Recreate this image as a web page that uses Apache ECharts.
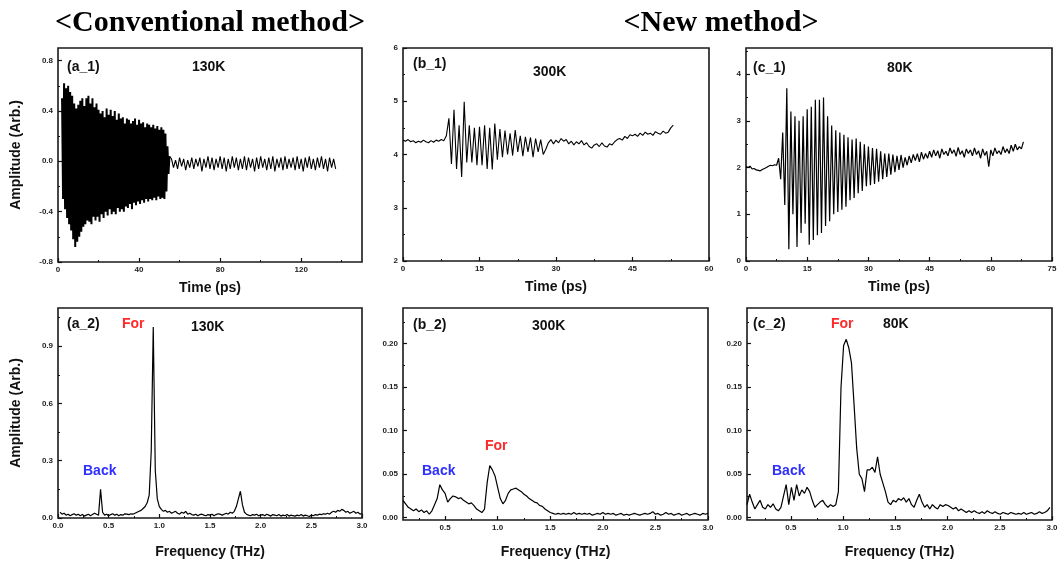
<!DOCTYPE html>
<html><head><meta charset="utf-8">
<script src="https://cdn.jsdelivr.net/npm/echarts@6/dist/echarts.min.js"></script>
<style>html,body{margin:0;padding:0;background:#fff}#c{width:1061px;height:562px}</style>
</head><body><div id="c"></div>
<script>
// ---------- (a_1) 130K time trace: burst sampled every 0.5 ps from 2 ps, tail every 1 ps from 55 ps
const a1BurstStart = 2, a1BurstStep = 0.5;
const a1Burst = [
 0.50,-0.30,0.62,-0.38,0.58,-0.45,0.60,-0.50,0.55,-0.55,
 0.52,-0.62,0.46,-0.68,0.42,-0.64,0.45,-0.60,0.48,-0.56,
 0.50,-0.52,0.44,-0.50,0.50,-0.47,0.52,-0.48,0.46,-0.50,
 0.50,-0.44,0.43,-0.47,0.46,-0.44,0.41,-0.48,0.38,-0.42,
 0.40,-0.45,0.35,-0.40,0.42,-0.43,0.37,-0.38,0.41,-0.42,
 0.36,-0.40,0.40,-0.42,0.33,-0.37,0.38,-0.40,0.34,-0.38,
 0.35,-0.40,0.30,-0.36,0.34,-0.37,0.33,-0.34,0.30,-0.38,
 0.32,-0.33,0.34,-0.35,0.29,-0.32,0.33,-0.34,0.30,-0.31,
 0.31,-0.33,0.27,-0.30,0.30,-0.32,0.29,-0.30,0.27,-0.31,
 0.29,-0.29,0.26,-0.31,0.28,-0.28,0.25,-0.30,0.27,-0.29,
 0.25,-0.30,0.22,-0.24,0.12,-0.10,0.04];
const a1TailStart = 55, a1TailStep = 1;
const a1Tail = [
 0.04,
 0.02,-0.05,0.01,-0.06,0.03,-0.04,0.02,-0.07,0.01,-0.05,
 0.03,-0.06,0.02,-0.04,0.03,-0.08,0.02,-0.05,0.04,-0.06,
 0.03,-0.07,0.02,-0.05,0.04,-0.06,0.03,-0.08,0.02,-0.06,
 0.04,-0.05,0.03,-0.07,0.02,-0.06,0.04,-0.07,0.03,-0.05,
 0.02,-0.08,0.03,-0.06,0.04,-0.05,0.02,-0.07,0.03,-0.06,
 0.04,-0.08,0.02,-0.05,0.03,-0.07,0.04,-0.06,0.02,-0.05,
 0.03,-0.07,0.04,-0.06,0.02,-0.08,0.03,-0.05,0.04,-0.06,
 0.02,-0.07,0.03,-0.05,0.04,-0.06,0.02,-0.08,0.03,-0.05,
 0.02,-0.06];

// ---------- (b_1) 300K time trace, every 0.5 ps from 0 ps
const b1Start = 0, b1Step = 0.5;
const b1 = [
 4.27,4.25,4.28,4.24,4.26,4.22,4.25,4.23,4.27,4.24,
 4.22,4.26,4.23,4.27,4.25,4.28,4.26,4.35,4.68,3.82,
 4.84,3.73,4.55,3.58,4.99,3.85,4.55,3.85,4.50,3.80,
 4.52,3.80,4.55,3.73,4.50,3.72,4.58,3.90,4.48,3.95,
 4.45,4.00,4.40,3.98,4.46,4.05,4.35,3.97,4.33,4.05,
 4.32,3.95,4.30,4.05,4.28,4.00,4.10,4.22,4.28,4.20,
 4.27,4.22,4.30,4.25,4.28,4.20,4.25,4.18,4.24,4.20,
 4.26,4.18,4.22,4.15,4.12,4.18,4.20,4.15,4.22,4.16,
 4.14,4.20,4.18,4.24,4.28,4.30,4.27,4.34,4.30,4.37,
 4.35,4.38,4.34,4.40,4.36,4.42,4.38,4.40,4.36,4.43,
 4.40,4.38,4.44,4.40,4.42,4.50,4.55];

// ---------- (c_1) 80K time trace, every 0.5 ps from 0 ps
const c1Start = 0, c1Step = 0.5;
const c1 = [
 2.02,2.00,2.03,1.97,1.98,1.95,1.94,1.93,1.96,1.98,
 2.00,2.03,2.05,2.04,2.06,2.05,2.20,1.75,2.75,1.20,
 3.70,0.25,3.20,1.00,3.10,0.30,3.00,0.60,3.10,0.80,
 3.25,0.35,3.30,0.45,3.45,0.55,3.45,0.60,3.50,0.75,
 3.10,0.85,2.90,1.00,2.80,1.05,2.75,1.10,2.70,1.16,
 2.65,1.30,2.60,1.35,2.62,1.45,2.55,1.50,2.50,1.60,
 2.45,1.62,2.42,1.65,2.40,1.70,2.35,1.75,2.30,1.80,
 2.30,1.85,2.28,1.90,2.25,1.95,2.27,2.00,2.22,2.05,
 2.25,2.10,2.28,2.15,2.30,2.12,2.33,2.18,2.30,2.20,
 2.35,2.22,2.38,2.25,2.36,2.20,2.40,2.28,2.35,2.25,
 2.42,2.30,2.38,2.24,2.43,2.28,2.36,2.22,2.40,2.30,
 2.38,2.25,2.42,2.28,2.36,2.20,2.40,2.26,2.35,2.02,
 2.38,2.25,2.42,2.30,2.36,2.28,2.45,2.32,2.40,2.30,
 2.48,2.35,2.50,2.38,2.45,2.40,2.55];

// ---------- (a_2) 130K spectrum, every 0.02 THz from 0.02 THz
const a2Start = 0.02, a2Step = 0.02;
const a2 = [
 0.030,0.020,0.025,0.015,0.020,0.012,0.018,0.022,0.015,0.020,
 0.012,0.018,0.010,0.015,0.020,0.012,0.018,0.025,0.020,0.015,
 0.150,0.030,0.015,0.020,0.012,0.018,0.022,0.015,0.020,0.012,
 0.018,0.015,0.022,0.020,0.018,0.022,0.020,0.025,0.030,0.035,
 0.040,0.050,0.060,0.080,0.120,0.350,1.000,0.250,0.100,0.060,
 0.045,0.035,0.040,0.030,0.035,0.025,0.030,0.035,0.025,0.020,
 0.030,0.025,0.035,0.020,0.025,0.018,0.015,0.020,0.012,0.018,
 0.020,0.015,0.012,0.018,0.015,0.020,0.012,0.018,0.022,0.020,
 0.015,0.020,0.025,0.020,0.030,0.025,0.035,0.060,0.100,0.140,
 0.070,0.030,0.020,0.015,0.012,0.018,0.015,0.020,0.012,0.015,
 0.018,0.012,0.020,0.015,0.010,0.018,0.015,0.012,0.018,0.010,
 0.015,0.012,0.018,0.010,0.015,0.012,0.010,0.015,0.012,0.018,
 0.010,0.015,0.012,0.008,0.015,0.012,0.018,0.015,0.020,0.018,
 0.022,0.020,0.025,0.020,0.030,0.035,0.030,0.040,0.035,0.045,
 0.040,0.030,0.035,0.025,0.030,0.035,0.025,0.030,0.020,0.025];

// ---------- (b_2) 300K spectrum, every 0.025 THz from 0.1 THz
const b2Start = 0.1, b2Step = 0.025;
const b2 = [
 0.020,0.016,0.012,0.010,0.008,0.010,0.007,0.009,0.006,0.008,
 0.004,0.008,0.015,0.022,0.038,0.032,0.028,0.018,0.022,0.025,
 0.024,0.022,0.023,0.020,0.018,0.016,0.017,0.014,0.010,0.008,
 0.006,0.010,0.040,0.060,0.055,0.048,0.035,0.022,0.016,0.020,
 0.028,0.032,0.033,0.034,0.032,0.030,0.027,0.025,0.022,0.020,
 0.018,0.017,0.014,0.013,0.010,0.008,0.006,0.005,0.004,0.005,
 0.004,0.005,0.004,0.005,0.004,0.006,0.004,0.005,0.004,0.005,
 0.004,0.005,0.003,0.004,0.005,0.004,0.006,0.004,0.005,0.004,
 0.005,0.003,0.004,0.005,0.003,0.004,0.003,0.004,0.005,0.004,
 0.003,0.004,0.005,0.004,0.005,0.007,0.004,0.005,0.003,0.004,
 0.006,0.004,0.005,0.003,0.004,0.005,0.003,0.004,0.005,0.003,
 0.004,0.005,0.004,0.003,0.005,0.004,0.005];

// ---------- (c_2) 80K spectrum, every 0.025 THz from 0.08 THz
const c2Start = 0.08, c2Step = 0.025;
const c2 = [
 0.015,0.027,0.018,0.010,0.015,0.020,0.012,0.010,0.015,0.012,
 0.016,0.010,0.008,0.012,0.025,0.038,0.015,0.035,0.020,0.038,
 0.025,0.032,0.028,0.035,0.030,0.020,0.012,0.015,0.018,0.020,
 0.015,0.012,0.015,0.013,0.015,0.030,0.150,0.198,0.205,0.195,
 0.178,0.130,0.080,0.050,0.045,0.030,0.055,0.055,0.058,0.052,
 0.070,0.050,0.040,0.030,0.018,0.015,0.020,0.018,0.022,0.020,
 0.023,0.018,0.022,0.015,0.012,0.020,0.027,0.018,0.012,0.015,
 0.010,0.015,0.012,0.010,0.015,0.013,0.015,0.014,0.012,0.010,
 0.012,0.008,0.010,0.008,0.006,0.008,0.006,0.008,0.006,0.005,
 0.007,0.005,0.008,0.006,0.005,0.007,0.005,0.004,0.006,0.005,
 0.004,0.006,0.005,0.004,0.005,0.004,0.006,0.004,0.005,0.006,
 0.004,0.005,0.007,0.005,0.006,0.008,0.012];

// ---------- tick values / labels
const a1XTicks = [0,40,80,120], a1XMinor = [20,60,100,140];
const a1YTicks = [-0.8,-0.4,0,0.4,0.8], a1YMinor = [-0.6,-0.2,0.2,0.6];
const b1XTicks = [0,15,30,45,60], b1XMinor = [7.5,22.5,37.5,52.5];
const b1YTicks = [2,3,4,5,6], b1YMinor = [2.5,3.5,4.5,5.5];
const c1XTicks = [0,15,30,45,60,75], c1XMinor = [7.5,22.5,37.5,52.5,67.5];
const c1YTicks = [0,1,2,3,4], c1YMinor = [0.5,1.5,2.5,3.5,4.5];
const a2XTicks = [0,0.5,1,1.5,2,2.5,3], a2XMinor = [0.25,0.75,1.25,1.75,2.25,2.75];
const a2YTicks = [0,0.3,0.6,0.9], a2YMinor = [0.15,0.45,0.75,1.05];
const b2XTicks = [0.5,1,1.5,2,2.5,3], b2XMinor = [0.25,0.75,1.25,1.75,2.25,2.75];
const b2YTicks = [0,0.05,0.1,0.15,0.2], b2YMinor = [0.025,0.075,0.125,0.175,0.225];
const c2XTicks = [0.5,1,1.5,2,2.5,3], c2XMinor = [0.25,0.75,1.25,1.75,2.25,2.75];
const c2YTicks = [0,0.05,0.1,0.15,0.2], c2YMinor = [0.025,0.075,0.125,0.175,0.225];

// ---------- texts
const headings = ['<Conventional method>', '<New method>'];
const panelTags = ['(a_1)','(b_1)','(c_1)','(a_2)','(b_2)','(c_2)'];
const temps = ['130K','300K','80K','130K','300K','80K'];
const forLabel = 'For', backLabel = 'Back';
const yName = 'Amplitude (Arb.)', tName = 'Time (ps)', fName = 'Frequency (THz)';

function seq(start, step, vals){ return vals.map((v,i)=>[+(start+i*step).toFixed(4), v]); }

const panels = [
 {grid:{left:58,top:48,width:304,height:214}, x:{min:0,max:150,t:a1XTicks,m:a1XMinor,d:0}, y:{min:-0.8,max:0.9,t:a1YTicks,m:a1YMinor,d:1},
  lines:[{data:seq(a1BurstStart,a1BurstStep,a1Burst), lw:2},{data:seq(a1TailStart,a1TailStep,a1Tail), lw:1.1}], xn:tName, xg:19, yn:yName},
 {grid:{left:403,top:48,width:306,height:213}, x:{min:0,max:60,t:b1XTicks,m:b1XMinor,d:0}, y:{min:2,max:6,t:b1YTicks,m:b1YMinor,d:0},
  lines:[{data:seq(b1Start,b1Step,b1), lw:1.1}], xn:tName, xg:19},
 {grid:{left:746,top:48,width:306,height:213}, x:{min:0,max:75,t:c1XTicks,m:c1XMinor,d:0}, y:{min:0,max:4.56,t:c1YTicks,m:c1YMinor,d:0},
  lines:[{data:seq(c1Start,c1Step,c1), lw:1.2}], xn:tName, xg:19},
 {grid:{left:58,top:308,width:304,height:210}, x:{min:0,max:3,t:a2XTicks,m:a2XMinor,d:1}, y:{min:0,max:1.1,t:a2YTicks,m:a2YMinor,d:1},
  lines:[{data:seq(a2Start,a2Step,a2), lw:1.2}], xn:fName, xg:27, yn:yName},
 {grid:{left:403,top:308,width:305,height:212}, x:{min:0.1,max:3,t:b2XTicks,m:b2XMinor,d:1}, y:{min:-0.0026,max:0.241,t:b2YTicks,m:b2YMinor,d:2},
  lines:[{data:seq(b2Start,b2Step,b2), lw:1.2}], xn:fName, xg:25},
 {grid:{left:747,top:308,width:305,height:212}, x:{min:0.08,max:3,t:c2XTicks,m:c2XMinor,d:1}, y:{min:-0.0026,max:0.241,t:c2YTicks,m:c2YMinor,d:2},
  lines:[{data:seq(c2Start,c2Step,c2), lw:1.2}], xn:fName, xg:25}
];

const tickColor = '#111';
const nameStyle = {fontFamily:'Liberation Sans', fontWeight:'bold', fontSize:14, color:'#111'};
function axes(p, gi, dim){
  const s = p[dim];
  const pos = dim === 'x' ? 'bottom' : 'left';
  const main = {
    type:'value', gridIndex:gi, position:pos, min:s.min, max:s.max,
    axisLine:{show:false, onZero:false}, splitLine:{show:false},
    axisTick:{show:true, inside:true, length:4, customValues:s.t, lineStyle:{color:tickColor,width:1.2}},
    axisLabel:{show:true, customValues:s.t, formatter:(v)=>Number(v).toFixed(s.d),
      fontFamily:'Liberation Sans', fontWeight:'bold', fontSize:8, color:'#222', margin: dim==='x'?4:5}
  };
  if (dim === 'x' && p.xn) { main.name = p.xn; main.nameLocation='middle'; main.nameGap=p.xg; main.nameTextStyle=nameStyle; }
  if (dim === 'y' && p.yn) { main.name = p.yn; main.nameLocation='middle'; main.nameGap=35; main.nameTextStyle=nameStyle; }
  const minor = {
    type:'value', gridIndex:gi, position:pos, min:s.min, max:s.max,
    axisLine:{show:false, onZero:false}, splitLine:{show:false}, axisLabel:{show:false},
    axisTick:{show:true, inside:true, length:2, customValues:s.m, lineStyle:{color:tickColor,width:1}}
  };
  return [main, minor];
}

const grid = [], xAxis = [], yAxis = [], series = [];
panels.forEach((p, gi) => {
  grid.push(Object.assign({show:true, borderColor:'#1a1a1a', borderWidth:1.6, backgroundColor:'transparent', containLabel:false}, p.grid));
  xAxis.push(...axes(p, gi, 'x'));
  yAxis.push(...axes(p, gi, 'y'));
  p.lines.forEach(l => series.push({type:'line', xAxisIndex:2*gi, yAxisIndex:2*gi, data:l.data, showSymbol:false, symbol:'none',
    lineStyle:{color:'#000', width:l.lw}, clip:true, silent:true}));
});

const labelFont = 'bold 14px "Liberation Sans"';
function txt(x, y, text, color, font, align){
  return {type:'text', x:x, y:y, style:{text:text, fill:color||'#111', font:font||labelFont, align:align||'left', verticalAlign:'middle'}};
}
const red = '#ff2a2a', blue = '#2f2fff';
const graphic = [
  txt(210, 23, headings[0], '#000', 'bold 30px "Liberation Serif"', 'center'),
  txt(721, 23, headings[1], '#000', 'bold 30px "Liberation Serif"', 'center'),
  txt(67, 67, panelTags[0]), txt(192, 67, temps[0]),
  txt(413, 64, panelTags[1]), txt(533, 72, temps[1]),
  txt(753, 68, panelTags[2]), txt(887, 68, temps[2]),
  txt(67, 324, panelTags[3]), txt(122, 324, forLabel, red), txt(191, 327, temps[3]), txt(83, 471, backLabel, blue),
  txt(413, 325, panelTags[4]), txt(532, 326, temps[4]), txt(485, 446, forLabel, red), txt(422, 471, backLabel, blue),
  txt(753, 324, panelTags[5]), txt(831, 324, forLabel, red), txt(883, 324, temps[5]), txt(772, 471, backLabel, blue)
];

const chart = echarts.init(document.getElementById('c'), null, {renderer:'canvas'});
chart.setOption({animation:false, backgroundColor:'#fff', grid, xAxis, yAxis, series, graphic});
</script></body></html>
